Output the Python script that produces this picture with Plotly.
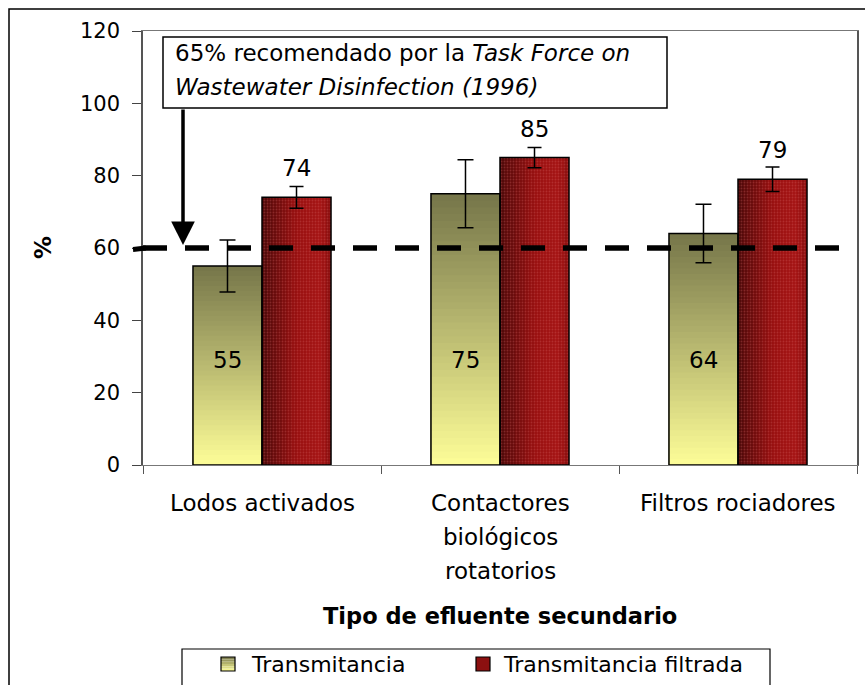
import plotly.graph_objects as go

# ---------------- data ----------------
categories = ["Lodos activados", "Contactores biológicos rotatorios", "Filtros rociadores"]
category_lines = [["Lodos activados"], ["Contactores", "biológicos", "rotatorios"], ["Filtros rociadores"]]
transmitancia = [55, 75, 64]
transmitancia_err = [7.2, 9.4, 8.1]
filtrada = [74, 85, 79]
filtrada_err = [3.0, 2.8, 3.4]
reference_level = 60
y_ticks = [0, 20, 40, 60, 80, 100, 120]
series_names = ["Transmitancia", "Transmitancia filtrada"]
x_title = "Tipo de efluente secundario"
y_title = "%"
note_line1 = "65% recomendado por la <i>Task Force on</i>"
note_line2 = "<i>Wastewater Disinfection (1996)</i>"

FONT = "DejaVu Sans"
BAR_W = 0.29
N_V = 40   # vertical gradient steps (olive)
N_H = 14   # horizontal gradient steps (red)

W, H = 865, 685
PL, PT, PW, PH = 143, 31, 714, 434   # plot area in px


def px_x(px):
    return (px - PL) / PW


def px_y(py):
    return (PT + PH - py) / PH


def hex2rgb(h):
    h = h.lstrip("#")
    return [int(h[i:i + 2], 16) for i in (0, 2, 4)]


def interp(stops, t):
    for (t0, c0), (t1, c1) in zip(stops[:-1], stops[1:]):
        if t0 <= t <= t1:
            f = 0 if t1 == t0 else (t - t0) / (t1 - t0)
            a, b = hex2rgb(c0), hex2rgb(c1)
            return "rgb(%d,%d,%d)" % tuple(round(a[i] + (b[i] - a[i]) * f) for i in range(3))
    return stops[-1][1]


olive_stops = [(0.0, "#ffff99"), (1.0, "#77774a")]          # bottom -> top
red_stops = [(0.0, "#4a0707"), (0.5, "#980f0f"), (0.85, "#a51313"), (1.0, "#860d0d")]  # left -> right
red_pattern = dict(shape=".", size=3, solidity=0.3, fgcolor="#d06060", fgopacity=0.35)

fig = go.Figure()

# olive vertical gradient (overlapping bars from zero, shrinking)
for k in range(N_V):
    frac = (N_V - k) / N_V
    fig.add_bar(
        x=categories, y=[v * frac for v in transmitancia],
        offset=-BAR_W, width=BAR_W,
        marker=dict(color=interp(olive_stops, frac), line=dict(width=0)),
        showlegend=False, hoverinfo="skip",
    )

# red horizontal gradient with fine texture
for j in range(N_H):
    frac = (N_H - j) / N_H
    fig.add_bar(
        x=categories, y=filtrada,
        offset=0, width=BAR_W * frac,
        marker=dict(color=interp(red_stops, frac - 0.5 / N_H), line=dict(width=0), pattern=red_pattern),
        showlegend=False, hoverinfo="skip",
    )

# outlines with error bars
fig.add_bar(
    x=categories, y=transmitancia, offset=-BAR_W, width=BAR_W, name=series_names[0],
    marker=dict(color="rgba(0,0,0,0)", line=dict(color="black", width=1.5)),
    error_y=dict(type="data", array=transmitancia_err, color="black", thickness=1.5, width=8),
    showlegend=False, hoverinfo="skip",
)
fig.add_bar(
    x=categories, y=filtrada, offset=0, width=BAR_W, name=series_names[1],
    marker=dict(color="rgba(0,0,0,0)", line=dict(color="black", width=1.5)),
    error_y=dict(type="data", array=filtrada_err, color="black", thickness=1.5, width=7),
    showlegend=False, hoverinfo="skip",
)

annotations = []
# value labels
for c, v in zip(categories, transmitancia):
    annotations.append(dict(x=c, y=29, xref="x", yref="y", text=str(v), showarrow=False,
                            xshift=-0.145 * 238, font=dict(family=FONT, size=23, color="black")))
for c, v in zip(categories, filtrada):
    annotations.append(dict(x=c, y=v, xref="x", yref="y", text=str(v), showarrow=False,
                            xshift=0.145 * 238, yshift=29, font=dict(family=FONT, size=23, color="black")))
# category labels (multi-line)
for i, lines in enumerate(category_lines):
    for li, t in enumerate(lines):
        annotations.append(dict(x=i, y=0, xref="x", yref="y", text=t, showarrow=False,
                                xanchor="center", yshift=-(38 + 34 * li), yanchor="middle",
                                font=dict(family=FONT, size=23, color="black")))
# axis titles
annotations.append(dict(x=0.5, y=px_y(616), xref="paper", yref="paper", text="<b>%s</b>" % x_title,
                        xanchor="center", showarrow=False, yanchor="middle",
                        font=dict(family=FONT, size=22.5, color="black")))
annotations.append(dict(x=px_x(43), y=reference_level, xref="paper", yref="y", text="<b>%s</b>" % y_title,
                        xanchor="center", yanchor="middle", textangle=-90, showarrow=False,
                        font=dict(family=FONT, size=23, color="black")))
# note text
annotations.append(dict(x=px_x(173), y=px_y(53), xref="paper", yref="paper", text=note_line1,
                        xanchor="left", yanchor="middle", showarrow=False,
                        font=dict(family=FONT, size=23, color="black")))
annotations.append(dict(x=px_x(173), y=px_y(87), xref="paper", yref="paper", text=note_line2,
                        xanchor="left", yanchor="middle", showarrow=False,
                        font=dict(family=FONT, size=23, color="black")))
# arrow
arrow_x = (183 - PL) / 238 - 0.5
annotations.append(dict(x=arrow_x, y=reference_level, xref="x", yref="y",
                        ax=arrow_x, ay=(PT + PH - 108) / (PH / 120), axref="x", ayref="y",
                        text="", showarrow=True, arrowhead=2, arrowsize=1.35, arrowwidth=3.5,
                        arrowcolor="black", standoff=3))
# legend texts
legend_text_x = [249, 501]
for name, lx in zip(series_names, legend_text_x):
    annotations.append(dict(x=px_x(lx), y=px_y(664), xref="paper", yref="paper", text=name,
                            xanchor="left", yanchor="middle", showarrow=False,
                            font=dict(family=FONT, size=22, color="black")))

shapes = [
    # outer chart border
    dict(type="rect", xref="paper", yref="paper", x0=px_x(9), x1=1.2, y0=-0.8, y1=px_y(9),
         line=dict(color="black", width=1.5), fillcolor="rgba(0,0,0,0)", layer="below"),
    # reference dashed line
    dict(type="line", xref="paper", yref="y", x0=0, x1=1, y0=reference_level, y1=reference_level,
         line=dict(color="black", width=5.5, dash="24px,18px")),
    dict(type="line", xref="paper", yref="y", x0=px_x(133), x1=0.004, y0=reference_level - 0.4,
         y1=reference_level, line=dict(color="black", width=5)),
    # note box
    dict(type="rect", xref="paper", yref="paper", x0=px_x(163), x1=px_x(667),
         y0=px_y(108), y1=px_y(37), line=dict(color="black", width=1.5), fillcolor="white"),
    # legend box
    dict(type="rect", xref="paper", yref="paper", x0=px_x(182), x1=px_x(770),
         y0=px_y(710), y1=px_y(649), line=dict(color="black", width=1.2),
         fillcolor="rgba(0,0,0,0)"),
]
# legend swatches
swatch_x = [221, 476]
for k in range(6):
    t = k / 6
    shapes.append(dict(type="rect", xref="paper", yref="paper",
                       x0=px_x(swatch_x[0]), x1=px_x(swatch_x[0] + 14),
                       y0=px_y(657 + 14 * (t + 1 / 6)), y1=px_y(657 + 14 * t),
                       line=dict(width=0), fillcolor=interp(olive_stops, 1 - t - 1 / 12)))
shapes.append(dict(type="rect", xref="paper", yref="paper", x0=px_x(swatch_x[0]), x1=px_x(swatch_x[0] + 14),
                   y0=px_y(671), y1=px_y(657), line=dict(color="black", width=1.2), fillcolor="rgba(0,0,0,0)"))
shapes.append(dict(type="rect", xref="paper", yref="paper", x0=px_x(swatch_x[1]), x1=px_x(swatch_x[1] + 14),
                   y0=px_y(671), y1=px_y(657), line=dict(color="black", width=1.2), fillcolor="#8c1010"))

fig.update_layout(
    width=W, height=H,
    margin=dict(l=PL, r=W - PL - PW, t=PT, b=H - PT - PH, autoexpand=False),
    paper_bgcolor="white", plot_bgcolor="white",
    barmode="overlay", hovermode=False,
    font=dict(family=FONT, size=20, color="black"),
    showlegend=False,
    annotations=annotations,
    shapes=shapes,
)
fig.update_xaxes(type="category", range=[-0.5, 2.5], showticklabels=False, ticks="outside", tickson="boundaries",
                 ticklen=8, tickcolor="#555", showline=True, linecolor="#777", linewidth=1.2, mirror=True,
                 showgrid=False, zeroline=False, fixedrange=True)
fig.update_yaxes(range=[0, 120], tickvals=y_ticks, ticks="outside", ticklen=9, tickcolor="#444",
                 ticklabelstandoff=8, tickfont=dict(family=FONT, size=21),
                 showline=True, linecolor="#555", linewidth=1.5, mirror=True,
                 showgrid=False, zeroline=False, fixedrange=True)

page_fix = (
    "var s=document.createElement('style');"
    "s.textContent='html,body{margin:0!important;padding:0!important;overflow:hidden!important;"
    "width:865px;height:685px;} body>div{height:685px;overflow:hidden;line-height:0;font-size:0;}';"
    "document.head.appendChild(s);"
)
fig.write_html("out.html", config={"displayModeBar": False}, post_script=page_fix)
